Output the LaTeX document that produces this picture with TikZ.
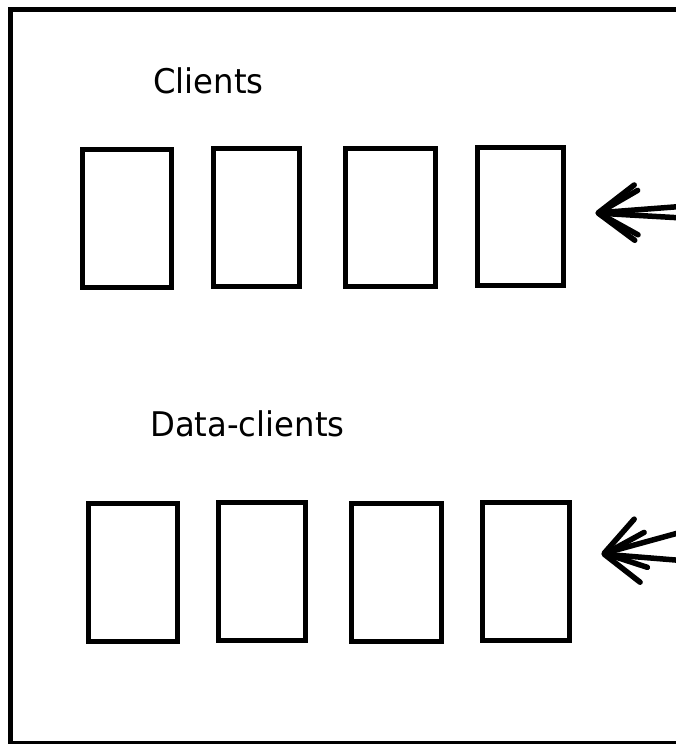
\documentclass[tikz,border=0pt]{standalone}
\usepackage{fontspec}
\setmainfont{DejaVu Sans}
\usepackage{graphicx}
\usetikzlibrary{positioning,arrows.meta}

% narrow the labels a little
\newcommand{\lbltext}[1]{\scalebox{0.95}[1]{#1}}

\begin{document}
\begin{tikzpicture}[x=1pt,y=-1pt,
    every node/.style={font=\fontsize{34}{40}\selectfont},
    cbox/.style={draw,line width=5pt,rectangle,minimum width=88pt,minimum height=138pt,inner sep=0pt},
    feed/.style={line width=5.5pt,line cap=round,-{Straight Barb[length=38pt,width=50pt,round]}}]
        \useasboundingbox (0,0) rectangle (676,744);
        \begin{scope}
        \clip (0,0) rectangle (676,744);
        % outer frame, runs on past the right and bottom edges
        \draw[line width=4.5pt] (10.3,9.5) rectangle (760,743.5);

        % clients row
        \node[anchor=base west,inner sep=0pt] (clbl) at (153,93) {\lbltext{Clients}};
        \node[cbox,minimum width=89pt] (c1) at (126.5,218) {};
        \node[cbox,minimum width=86pt] (c2) at (256,217.5) {};
        \node[cbox,minimum width=90pt] (c3) at (390,217.5) {};
        \node[cbox,minimum width=86pt] (c4) at (520,216) {};

        % data-clients row
        \node[anchor=base west,inner sep=0pt] (dlbl) at (150,436) {\lbltext{Data-clients}};
        \node[cbox,minimum width=89pt] (d1) at (132.5,572.5) {};
        \node[cbox,minimum width=87pt] (d2) at (261.5,571.5) {};
        \node[cbox,minimum width=90pt] (d3) at (396,572) {};
        \node[cbox,minimum width=87pt] (d4) at (525.5,571) {};

        % incoming feeds from the right
        \coordinate (t1) at ([xshift=30pt,yshift=3pt]c4.east);
        \coordinate (s1a) at (700,205);
        \coordinate (s1b) at (700,219);
        \draw[feed] (s1a) -- (t1);
        \draw[feed] (s1b) -- (t1);

        \coordinate (t2) at ([xshift=30pt,yshift=17pt]d4.east);
        \coordinate (s2a) at (700,527);
        \coordinate (s2b) at (700,562);
        \draw[feed] (s2a) -- (t2);
        \draw[feed] (s2b) -- (t2);
        \end{scope}
      \end{tikzpicture}
\end{document}
